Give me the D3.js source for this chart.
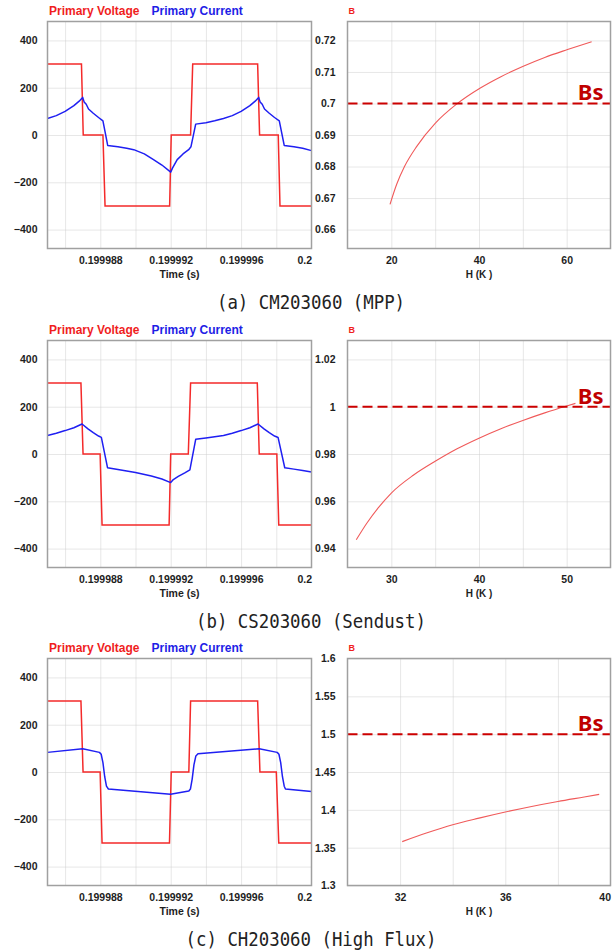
<!DOCTYPE html>
<html>
<head>
<meta charset="utf-8">
<script src="https://cdn.jsdelivr.net/npm/d3@7"></script>
<style>
  body { margin: 0; background: #fff; }
  svg { display: block; }
</style>
</head>
<body>
<div id="chart"></div>
<script>
// ---- shared axis values ----
const timeDomain = [0.199985, 0.2]
const timeTicks = [0.199988, 0.199992, 0.199996, 0.2]
const timeGrid = [0.199986, 0.199988, 0.19999, 0.199992, 0.199994, 0.199996, 0.199998]
const voltDomain = [-480, 480]
const voltTicks = [-400, -200, 0, 200, 400]

// ---- (a) CM203060 (MPP) ----
const voltA = [[0.199985,300],[0.19998693,300],[0.19998703,0],[0.19998815,0],[0.19998827,-300],[0.19999194,-300],[0.19999203,0],[0.19999313,0],[0.19999325,300],[0.19999694,300],[0.19999705,0],[0.19999811,0],[0.19999821,-300],[0.2,-300]]
const currA = [[0.199985,70],[0.1999855,82],[0.199986,100],[0.1999865,124],[0.1999868,143],[0.199987,159],[0.19998708,140],[0.1999872,130],[0.19998733,110],[0.1999876,92],[0.1999879,74],[0.19998815,60],[0.19998842,-44],[0.199989,-50],[0.1999895,-56],[0.1999899,-62],[0.1999905,-80],[0.199991,-103],[0.1999915,-127],[0.199992,-157],[0.1999921,-140],[0.19999237,-104],[0.1999927,-80],[0.19999302,-62],[0.19999315,-50],[0.19999342,46],[0.199994,52],[0.1999945,60],[0.199995,70],[0.1999955,82],[0.199996,100],[0.1999965,124],[0.1999968,143],[0.199997,159],[0.19999708,140],[0.1999972,130],[0.19999733,110],[0.1999976,92],[0.1999979,74],[0.19999817,60],[0.19999845,-44],[0.199999,-50],[0.1999995,-56],[0.2,-66]]
const hA = [19.7, 21.2, 23, 25.8, 30, 34.8, 40.3, 45, 50.1, 55, 60.2, 65.7]
const bA = [0.668, 0.6743, 0.68, 0.6864, 0.6937, 0.6997, 0.7049, 0.7085, 0.7118, 0.7146, 0.7171, 0.7196]
const bTicksA = [0.66, 0.67, 0.68, 0.69, 0.7, 0.71, 0.72]
const hTicksA = [20, 40, 60]
const hGridA = [20, 30, 40, 50, 60]

// ---- (b) CS203060 (Sendust) ----
const voltB = [[0.199985,300],[0.1999869,300],[0.19998702,0],[0.19998799,0],[0.1999881,-300],[0.19999191,-300],[0.199992,0],[0.199993,0],[0.19999313,300],[0.19999692,300],[0.19999703,0],[0.19999803,0],[0.19999814,-300],[0.2,-300]]
const currB = [[0.199985,78],[0.1999855,88],[0.199986,99],[0.1999865,111],[0.19998696,127],[0.1999873,106],[0.1999876,90],[0.1999879,76],[0.19998806,70],[0.19998841,-58],[0.199989,-66],[0.19999,-78],[0.1999909,-93],[0.1999915,-106],[0.199992,-121],[0.19999215,-108],[0.19999243,-95],[0.1999928,-80],[0.19999309,-67],[0.19999342,62],[0.199994,68],[0.1999945,73],[0.199995,78],[0.1999955,88],[0.199996,99],[0.1999965,111],[0.19999696,127],[0.1999973,106],[0.1999976,90],[0.1999979,76],[0.1999981,70],[0.19999848,-58],[0.199999,-64],[0.1999995,-70],[0.2,-76]]
const hB = [26, 27.2, 28.5, 30, 32.5, 35, 37.5, 40, 42.5, 45, 47.5, 50, 51]
const bB = [0.9437, 0.9507, 0.9572, 0.9635, 0.971, 0.9769, 0.9822, 0.9867, 0.9907, 0.9942, 0.9974, 1.0003, 1.0014]
const bTicksB = [0.94, 0.96, 0.98, 1, 1.02]
const hTicksB = [30, 40, 50]
const hGridB = [30, 35, 40, 45, 50]

// ---- (c) CH203060 (High Flux) ----
const voltC = [[0.199985,300],[0.1999869,300],[0.19998702,0],[0.19998799,0],[0.1999881,-300],[0.19999193,-300],[0.19999203,0],[0.19999303,0],[0.19999313,300],[0.19999694,300],[0.19999707,0],[0.199998,0],[0.19999814,-300],[0.2,-300]]
const currC = [[0.199985,83],[0.199987,98],[0.19998795,83],[0.19998805,75],[0.19998815,40],[0.19998825,-20],[0.19998835,-60],[0.19998846,-72],[0.19999199,-94],[0.19999303,-80],[0.19999312,-72],[0.19999322,-30],[0.19999332,30],[0.19999343,68],[0.19999355,77],[0.19999703,98],[0.19999805,83],[0.19999815,75],[0.19999825,40],[0.19999835,-20],[0.19999845,-60],[0.19999852,-72],[0.2,-82]]
const hC = [32.08, 33, 34, 35, 36, 37, 38, 39, 39.57]
const bC = [1.358, 1.3693, 1.3803, 1.389, 1.3971, 1.4045, 1.4111, 1.417, 1.4204]
const bTicksC = [1.3, 1.35, 1.4, 1.45, 1.5, 1.55, 1.6]
const hTicksC = [32, 36, 40]
const hGridC = [32, 34, 36, 38]

const rows = [
  { top: 21.5, volt: voltA, curr: currA, h: hA, b: bA, bs: 0.7, bDomain: [0.654, 0.726], bTicks: bTicksA,
    hDomain: [10, 70], hTicks: hTicksA, hGrid: hGridA, caption: "(a) CM203060 (MPP)" },
  { top: 340.5, volt: voltB, curr: currB, h: hB, b: bB, bs: 1.0, bDomain: [0.932, 1.028], bTicks: bTicksB,
    hDomain: [25, 55], hTicks: hTicksB, hGrid: hGridB, caption: "(b) CS203060 (Sendust)" },
  { top: 658.5, volt: voltC, curr: currC, h: hC, b: bC, bs: 1.5, bDomain: [1.3, 1.6], bTicks: bTicksC,
    hDomain: [30, 40], hTicks: hTicksC, hGrid: hGridC, caption: "(c) CH203060 (High Flux)" }
]

const dimensions = {
  width: 616,
  height: 951,
  plotHeight: 227,
  left: { x: 47.5, width: 264 },
  right: { x: 347.5, width: 263 }
}

const colors = {
  volt: "#f42a2a",
  curr: "#1f1ff2",
  bh: "#f05a5a",
  bs: "#cc0000",
  grid: "#cfcfcf",
  frame: "#a0a0a0",
  text: "#1e1e1e"
}

const wrapper = d3.select("#chart")
  .append("svg")
  .attr("width", dimensions.width)
  .attr("height", dimensions.height)
  .style("font-family", "'Liberation Sans', Arial, sans-serif")

const ph = dimensions.plotHeight

const styleGrid = sel => {
  sel.select(".domain").remove()
  sel.selectAll("line")
    .attr("stroke", colors.grid)
    .attr("stroke-width", 1)
    .attr("stroke-dasharray", "1,1")
}

const styleLabels = sel => {
  sel.select(".domain").remove()
  sel.selectAll("text")
    .attr("fill", colors.text)
    .style("font-size", "10.5px")
    .style("font-weight", "bold")
}

const drawWave = (row) => {
  const pw = dimensions.left.width
  const bounds = wrapper.append("g")
    .attr("transform", `translate(${dimensions.left.x}, ${row.top})`)

  const xScale = d3.scaleLinear().domain(timeDomain).range([0, pw])
  const yScale = d3.scaleLinear().domain(voltDomain).range([ph, 0])

  // grid
  bounds.append("g")
    .call(d3.axisBottom(xScale).tickValues(timeGrid).tickSize(ph).tickFormat(""))
    .call(styleGrid)
  bounds.append("g")
    .call(d3.axisRight(yScale).tickValues(voltTicks).tickSize(pw).tickFormat(""))
    .call(styleGrid)

  const line = d3.line()
    .x(d => xScale(d[0]))
    .y(d => yScale(d[1]))

  bounds.append("path")
    .datum(row.volt)
    .attr("fill", "none")
    .attr("stroke", colors.volt)
    .attr("stroke-width", 1.5)
    .attr("d", line)

  bounds.append("path")
    .datum(row.curr)
    .attr("fill", "none")
    .attr("stroke", colors.curr)
    .attr("stroke-width", 1.5)
    .attr("stroke-linejoin", "round")
    .attr("d", line)

  bounds.append("rect")
    .attr("width", pw)
    .attr("height", ph)
    .attr("fill", "none")
    .attr("stroke", colors.frame)
    .attr("stroke-width", 1.5)

  // axes
  bounds.append("g")
    .call(d3.axisLeft(yScale).tickValues(voltTicks).tickSize(0).tickPadding(10))
    .call(styleLabels)

  const xAxisEl = bounds.append("g")
    .attr("transform", `translate(0, ${ph})`)
    .call(d3.axisBottom(xScale).tickValues(timeTicks).tickSize(0).tickPadding(8)
      .tickFormat(d => d === 0.2 ? "0.2" : d3.format(".6f")(d)))
    .call(styleLabels)
  // last label kept inside the frame
  xAxisEl.selectAll(".tick").filter(d => d === timeDomain[1])
    .select("text").attr("text-anchor", "end")

  bounds.append("text")
    .attr("x", pw / 2)
    .attr("y", ph + 29.5)
    .attr("text-anchor", "middle")
    .attr("fill", colors.text)
    .style("font-size", "10.5px")
    .style("font-weight", "bold")
    .text("Time (s)")

  // legend
  bounds.append("text")
    .attr("x", 1.5)
    .attr("y", -6.5)
    .attr("fill", "#f01e1e")
    .style("font-size", "12px")
    .style("font-weight", "bold")
    .text("Primary Voltage")
  bounds.append("text")
    .attr("x", 104)
    .attr("y", -6.5)
    .attr("fill", "#1e1ee6")
    .style("font-size", "12px")
    .style("font-weight", "bold")
    .text("Primary Current")
}

const drawBH = (row) => {
  const pw = dimensions.right.width
  const bounds = wrapper.append("g")
    .attr("transform", `translate(${dimensions.right.x}, ${row.top})`)

  const xScale = d3.scaleLinear().domain(row.hDomain).range([0, pw])
  const yScale = d3.scaleLinear().domain(row.bDomain).range([ph, 0])

  bounds.append("g")
    .call(d3.axisBottom(xScale).tickValues(row.hGrid).tickSize(ph).tickFormat(""))
    .call(styleGrid)
  bounds.append("g")
    .call(d3.axisRight(yScale).tickValues(row.bTicks).tickSize(pw).tickFormat(""))
    .call(styleGrid)

  const points = row.h.map((h, i) => [h, row.b[i]])
  bounds.append("path")
    .datum(points)
    .attr("fill", "none")
    .attr("stroke", colors.bh)
    .attr("stroke-width", 1.1)
    .attr("d", d3.line().curve(d3.curveMonotoneX).x(d => xScale(d[0])).y(d => yScale(d[1])))

  // saturation line
  bounds.append("line")
    .attr("x1", 0)
    .attr("x2", pw)
    .attr("y1", yScale(row.bs))
    .attr("y2", yScale(row.bs))
    .attr("stroke", colors.bs)
    .attr("stroke-width", 2)
    .attr("stroke-dasharray", "10,5")

  bounds.append("text")
    .attr("x", pw - 7)
    .attr("y", yScale(row.bs) - 3)
    .attr("text-anchor", "end")
    .attr("fill", "#c00000")
    .style("font-family", "'Noto Sans', sans-serif")
    .style("font-size", "22px")
    .style("font-weight", "bold")
    .text("Bs")

  bounds.append("rect")
    .attr("width", pw)
    .attr("height", ph)
    .attr("fill", "none")
    .attr("stroke", colors.frame)
    .attr("stroke-width", 1.5)

  bounds.append("g")
    .call(d3.axisLeft(yScale).tickValues(row.bTicks).tickSize(0).tickPadding(12)
      .tickFormat(d => d3.format("~g")(d)))
    .call(styleLabels)

  const xAxisEl = bounds.append("g")
    .attr("transform", `translate(0, ${ph})`)
    .call(d3.axisBottom(xScale).tickValues(row.hTicks).tickSize(0).tickPadding(8))
    .call(styleLabels)
  xAxisEl.selectAll(".tick").filter(d => d === row.hDomain[1])
    .select("text").attr("text-anchor", "end")

  bounds.append("text")
    .attr("x", pw / 2)
    .attr("y", ph + 29.5)
    .attr("text-anchor", "middle")
    .attr("fill", colors.text)
    .style("font-size", "10px")
    .style("font-weight", "bold")
    .text("H (K )")

  bounds.append("text")
    .attr("x", 1)
    .attr("y", -8)
    .attr("fill", "#f01e1e")
    .style("font-size", "9px")
    .style("font-weight", "bold")
    .text("B")
}

rows.forEach(row => {
  drawWave(row)
  drawBH(row)

  wrapper.append("text")
    .attr("x", 311)
    .attr("y", row.top + ph + 60)
    .attr("text-anchor", "middle")
    .attr("fill", "#222")
    .attr("textLength", row.caption.length * 10.45)
    .attr("lengthAdjust", "spacingAndGlyphs")
    .style("font-family", "'DejaVu Sans Mono', monospace")
    .style("font-size", "20px")
    .text(row.caption)
})
</script>
</body>
</html>
